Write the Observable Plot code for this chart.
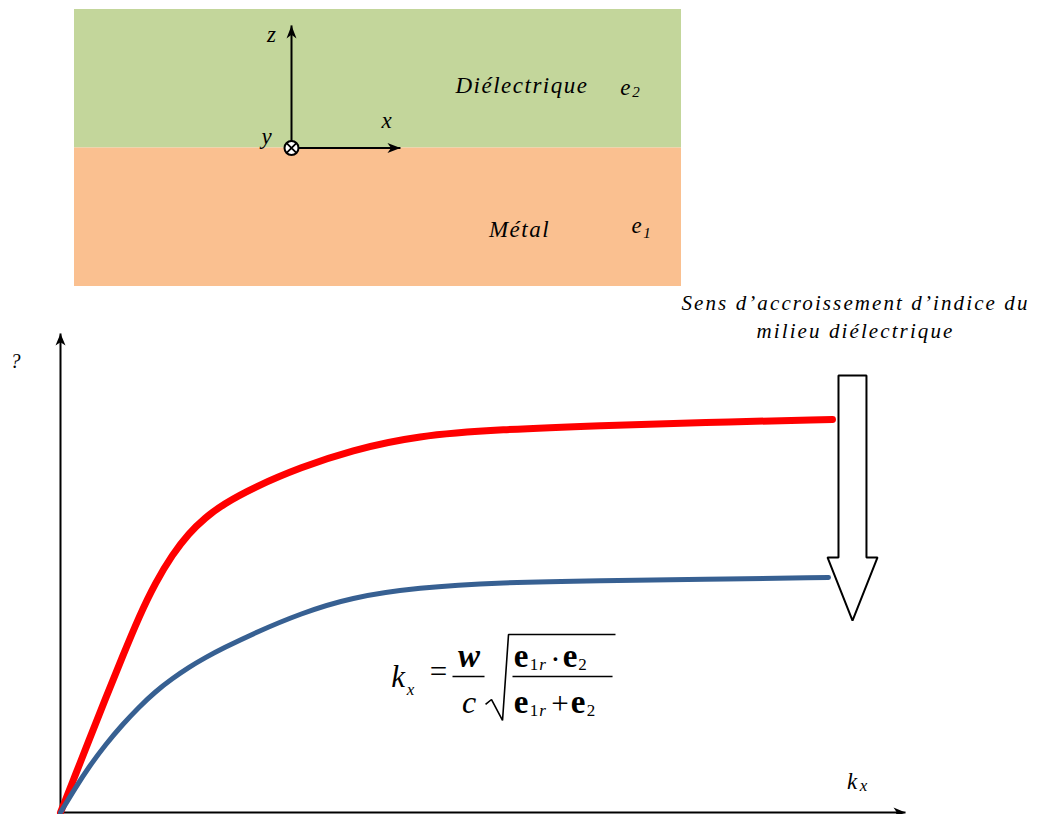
<!DOCTYPE html>
<html>
<head>
<meta charset="utf-8">
<script src="https://cdn.jsdelivr.net/npm/d3@7"></script>
<script src="https://cdn.jsdelivr.net/npm/@observablehq/plot@0.6"></script>
<style>
html, body { margin: 0; padding: 0; background: #fff; overflow: hidden; }
#fig { width: 1041px; height: 814px; position: relative; }
#fig svg { display: block; overflow: visible; max-width: none; }
#fig text { font-family: "Liberation Serif", "Times New Roman", serif; }
g[aria-description="spaced"] text { letter-spacing: 1.5px; }
g[aria-description="spaced3"] text { letter-spacing: 2.1px; }
</style>
</head>
<body>
<div id="fig"></div>
<script>
// ---------- Top diagram: interface metal / dielectric ----------
const layerNames = ["Diélectrique", "Métal"];
const layerZ1 = [0, -1];
const layerZ2 = [1, 0];
const layerFill = ["#c3d69b", "#fac090"];
const layerX = [0, 10];

// coordinate frame origin and arrow ends (diagram units)
const originX = 3.575, originZ = 0;
const zAxisTop = 0.885;
const xAxisEnd = 5.37;

// diagram labels
const diagLabelText = ["z", "x", "y"];
const diagLabelX = [3.245, 5.14, 3.163];
const diagLabelZ = [0.762, 0.148, 0.032];
const mediumText = ["Diélectrique", "Métal"];
const mediumX = [7.372, 7.331];
const mediumZ = [0.394, -0.646];
const epsText = ["e", "e"];
const epsX = [9.077, 9.259];
const epsZ = [0.386, -0.617];
const epsSub = ["2", "1"];
const epsSubX = [9.250, 9.430];
const epsSubZ = [0.365, -0.653];

// ---------- Dispersion curves ω(kx) ----------
const redK = [0, 0.178, 0.331, 0.533, 0.734, 0.935, 1.124, 1.325, 1.515, 1.716, 1.917, 2.308, 2.840, 3.432, 4.225, 5.207, 6.391, 7.574, 9.136];
const redW = [0, 0.793, 1.482, 2.380, 3.257, 4.113, 4.802, 5.386, 5.825, 6.159, 6.430, 6.806, 7.203, 7.557, 7.871, 7.996, 8.079, 8.142, 8.205];
const blueK = [0, 0.178, 0.331, 0.533, 0.734, 0.923, 1.124, 1.325, 1.515, 1.716, 1.917, 2.308, 2.840, 3.432, 4.225, 5.207, 6.391, 7.574, 9.089];
const blueW = [0, 0.522, 0.939, 1.420, 1.837, 2.192, 2.526, 2.797, 3.027, 3.236, 3.424, 3.758, 4.154, 4.489, 4.697, 4.802, 4.843, 4.864, 4.906];

// hollow arrow "sens d'accroissement d'indice"
const bigArrowK = [9.207, 9.538, 9.538, 9.669, 9.373, 9.077, 9.207];
const bigArrowW = [9.123, 9.123, 5.324, 5.324, 4.008, 5.324, 5.324];

// formula anchor and radical / fraction bars (chart units)
const formulaK = 5, formulaW = 2.84;
const radicalK = [5.030, 5.101, 5.231, 5.302, 6.568];
const radicalW = [2.255, 2.359, 1.921, 3.716, 3.716];
const barK1 = [4.639, 5.349];
const barK2 = [5.018, 6.533];

// formula pieces: text, dx, dy, size, style, weight
const formulaParts = [
  ["k", -85, 11, 31, "italic", "normal"],
  ["x", -72.5, 19, 17, "italic", "normal"],
  ["=", -44.5, 5.5, 31, "normal", "normal"],
  ["w", -14, -9, 33, "italic", "bold"],
  ["c", -14, 37, 32, "italic", "normal"],
  ["e", 38, -9, 33, "normal", "bold"],
  ["1", 51, -6, 17, "normal", "normal"],
  ["r", 59.5, -6, 17, "italic", "normal"],
  ["·", 72.5, -6, 31, "normal", "normal"],
  ["e", 87, -9, 33, "normal", "bold"],
  ["2", 99.5, -6, 17, "normal", "normal"],
  ["e", 38, 37, 33, "normal", "bold"],
  ["1", 51, 40, 17, "normal", "normal"],
  ["r", 59.5, 40, 17, "italic", "normal"],
  ["+", 77, 38, 31, "normal", "normal"],
  ["e", 95, 37, 33, "normal", "bold"],
  ["2", 108, 40, 17, "normal", "normal"]
];

// arrowhead symbol (tip at the point), pointing along (ux, uy) in screen space
function arrowHead(ux, uy, len = 12, half = 5) {
  return {
    draw(ctx) {
      const px = -uy, py = ux;
      ctx.moveTo(0, 0);
      ctx.lineTo(-ux * len + px * half, -uy * len + py * half);
      ctx.lineTo(-ux * len * 0.72, -uy * len * 0.72);
      ctx.lineTo(-ux * len - px * half, -uy * len - py * half);
      ctx.closePath();
    }
  };
}

const font = "Liberation Serif";

// ----- Plot A: diagram -----
const layerRows = layerNames.map((name, i) => ({name, x1: layerX[0], x2: layerX[1], z1: layerZ1[i], z2: layerZ2[i], fill: layerFill[i]}));
const frameRows = [
  {x1: originX, z1: originZ, x2: originX, z2: zAxisTop},
  {x1: originX, z1: originZ, x2: xAxisEnd, z2: originZ}
];
const A = Plot.plot({
  width: 1041, height: 290,
  marginLeft: 74, marginRight: 360, marginTop: 9, marginBottom: 4,
  x: {domain: [0, 10], axis: null},
  y: {domain: [-1, 1], axis: null},
  color: {type: "identity"},
  style: {fontFamily: font, background: "transparent", color: "black"},
  marks: [
    Plot.rect(layerRows, {x1: "x1", x2: "x2", y1: "z1", y2: "z2", fill: "fill"}),
    Plot.link(frameRows, {x1: "x1", y1: "z1", x2: "x2", y2: "z2", stroke: "black", strokeWidth: 2}),
    Plot.dot([{x: originX, z: zAxisTop}], {x: "x", y: "z", r: 5, symbol: arrowHead(0, -1, 13, 5), fill: "black", stroke: "none"}),
    Plot.dot([{x: xAxisEnd, z: originZ}], {x: "x", y: "z", r: 5, symbol: arrowHead(1, 0, 13, 5), fill: "black", stroke: "none"}),
    Plot.dot([{x: originX, z: originZ}], {x: "x", y: "z", r: 7, fill: "white", stroke: "black", strokeWidth: 2}),
    Plot.dot([{x: originX, z: originZ}], {x: "x", y: "z", r: 4.5, symbol: "times", stroke: "black", strokeWidth: 1.8}),
    Plot.text(diagLabelText.map((t, i) => ({t, x: diagLabelX[i], z: diagLabelZ[i]})),
      {x: "x", y: "z", text: "t", fontSize: 23, fontStyle: "italic", lineAnchor: "bottom", fill: "black"}),
    Plot.text(mediumText.map((t, i) => ({t, x: mediumX[i], z: mediumZ[i]})),
      {x: "x", y: "z", text: "t", fontSize: 23, fontStyle: "italic", lineAnchor: "bottom", fill: "black", ariaDescription: "spaced"}),
    Plot.text(epsText.map((t, i) => ({t, x: epsX[i], z: epsZ[i]})),
      {x: "x", y: "z", text: "t", fontSize: 23, fontStyle: "italic", lineAnchor: "bottom", fill: "black"}),
    Plot.text(epsSub.map((t, i) => ({t, x: epsSubX[i], z: epsSubZ[i]})),
      {x: "x", y: "z", text: "t", fontSize: 15, fontStyle: "italic", lineAnchor: "bottom", fill: "black"})
  ]
});

// ----- Plot B: dispersion chart -----
const redRows = redK.map((k, i) => ({k, w: redW[i]}));
const blueRows = blueK.map((k, i) => ({k, w: blueW[i]}));
const arrowRows = bigArrowK.map((k, i) => ({k, w: bigArrowW[i]}));
const radicalRows = radicalK.map((k, i) => ({k, w: radicalW[i]}));
const barRows = barK1.map((k1, i) => ({k1, k2: barK2[i], w: formulaW}));
const axisRows = [
  {k1: 0, w1: 0, k2: 0, w2: 10},
  {k1: 0, w1: 0, k2: 10, w2: 0}
];

const formulaMarks = formulaParts.map(([t, dx, dy, size, style, weight]) =>
  Plot.text([{t, k: formulaK, w: formulaW}], {
    x: "k", y: "w", text: "t", dx, dy, fontSize: size, fontStyle: style, fontWeight: weight,
    lineAnchor: "bottom", textAnchor: "middle", fill: "black"
  })
);

const B = Plot.plot({
  width: 1041, height: 524,
  marginLeft: 60, marginRight: 136, marginTop: 43, marginBottom: 2,
  x: {domain: [0, 10], axis: null},
  y: {domain: [0, 10], axis: null},
  style: {fontFamily: font, background: "transparent", color: "black"},
  marks: [
    Plot.link(axisRows, {x1: "k1", y1: "w1", x2: "k2", y2: "w2", stroke: "black", strokeWidth: 2}),
    Plot.dot([{k: 0, w: 10}], {x: "k", y: "w", r: 5, symbol: arrowHead(0, -1, 12, 5), fill: "black", stroke: "none"}),
    Plot.dot([{k: 10, w: 0}], {x: "k", y: "w", r: 5, symbol: arrowHead(1, 0, 12, 5), fill: "black", stroke: "none"}),
    Plot.line(redRows, {x: "k", y: "w", stroke: "#ff0000", strokeWidth: 7, curve: "basis", strokeLinecap: "round"}),
    Plot.line(blueRows, {x: "k", y: "w", stroke: "#376092", strokeWidth: 5, curve: "basis", strokeLinecap: "round"}),
    Plot.line(arrowRows, {x: "k", y: "w", fill: "white", stroke: "black", strokeWidth: 2, curve: "linear-closed", strokeLinejoin: "miter"}),
    Plot.line(radicalRows, {x: "k", y: "w", stroke: "black", strokeWidth: 1.6, strokeLinejoin: "miter", strokeLinecap: "butt"}),
    Plot.link(barRows, {x1: "k1", x2: "k2", y1: "w", y2: "w", stroke: "black", strokeWidth: 1.6}),
    ...formulaMarks,
    Plot.text([{t: "?", k: -0.533, w: 9.27}], {x: "k", y: "w", text: "t", fontSize: 20, fontStyle: "italic", lineAnchor: "bottom", fill: "black"}),
    Plot.text([{t: "k", k: 9.367, w: 0.501}], {x: "k", y: "w", text: "t", fontSize: 23, fontStyle: "italic", lineAnchor: "bottom", fill: "black"}),
    Plot.text([{t: "x", k: 9.503, w: 0.459}], {x: "k", y: "w", text: "t", fontSize: 17, fontStyle: "italic", lineAnchor: "bottom", fill: "black"}),
    Plot.text([{t: "Sens d’accroissement d’indice du\nmilieu diélectrique", k: 9.408, w: 9.916}],
      {x: "k", y: "w", text: "t", fontSize: 21, fontStyle: "italic", lineAnchor: "bottom", lineHeight: 1.3, fill: "black", ariaDescription: "spaced3"})
  ]
});

const fig = document.getElementById("fig");
fig.appendChild(A);
fig.appendChild(B);
</script>
</body>
</html>
